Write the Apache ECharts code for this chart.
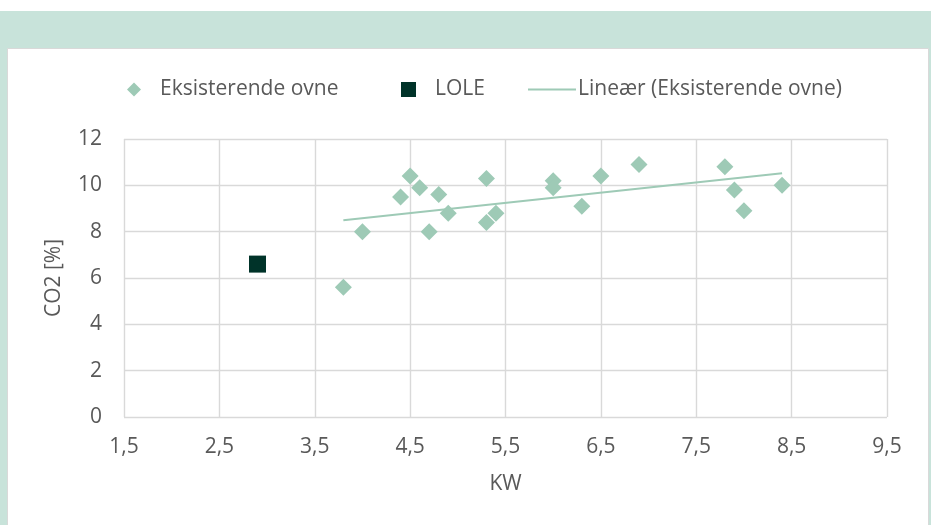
<!DOCTYPE html>
<html>
<head>
<meta charset="utf-8">
<script src="https://cdn.jsdelivr.net/npm/echarts@6/dist/echarts.min.js"></script>
<style>
  html, body { margin: 0; padding: 0; background: #ffffff; }
  #chart { width: 931px; height: 525px; }
</style>
</head>
<body>
<div id="chart"></div>
<script>
// Measured furnaces: output (kW) and CO2 (%)
const kwExisting = [3.8, 4.0, 4.4, 4.5, 4.6, 4.7, 4.8, 4.9, 5.3, 5.3, 5.4, 6.0, 6.0, 6.3, 6.5, 6.9, 7.8, 7.9, 8.0, 8.4];
const co2Existing = [5.6, 8.0, 9.5, 10.4, 9.9, 8.0, 9.6, 8.8, 10.3, 8.4, 8.8, 10.2, 9.9, 9.1, 10.4, 10.9, 10.8, 9.8, 8.9, 10.0];
const kwLole = [2.9];
const co2Lole = [6.6];

const seriesNames = ['Eksisterende ovne', 'LOLE', 'Lineær (Eksisterende ovne)'];
const xTicks = [1.5, 2.5, 3.5, 4.5, 5.5, 6.5, 7.5, 8.5, 9.5];
const yTicks = [0, 2, 4, 6, 8, 10, 12];

// Least-squares trend line over the existing furnaces
function linearFit(xs, ys) {
  const n = xs.length;
  const mx = xs.reduce((a, b) => a + b, 0) / n;
  const my = ys.reduce((a, b) => a + b, 0) / n;
  let sxy = 0, sxx = 0;
  for (let i = 0; i < n; i++) {
    sxy += (xs[i] - mx) * (ys[i] - my);
    sxx += (xs[i] - mx) * (xs[i] - mx);
  }
  const slope = sxy / sxx;
  return { slope, intercept: my - slope * mx };
}
const fit = linearFit(kwExisting, co2Existing);
const xMinData = Math.min(...kwExisting);
const xMaxData = Math.max(...kwExisting);
const trend = [xMinData, xMaxData].map(x => [x, fit.intercept + fit.slope * x]);

const existingPoints = kwExisting.map((x, i) => [x, co2Existing[i]]);
const lolePoints = kwLole.map((x, i) => [x, co2Lole[i]]);

const FONT = '"Open Sans", sans-serif';
const FS = 21;
const TEXT = '#595959';
const GRID = '#d9d9d9';
const LIGHT = '#9ecab6';
const DARK = '#003329';

const fmtComma = v => String(v).replace('.', ',');

const chart = echarts.init(document.getElementById('chart'), null, { renderer: 'canvas' });
chart.setOption({
  animation: false,
  backgroundColor: '#c8e3da',
  textStyle: { fontFamily: FONT },
  graphic: [
    { type: 'rect', silent: true, z: -10, shape: { x: 0, y: 0, width: 931, height: 11 }, style: { fill: '#ffffff' } },
    { type: 'rect', silent: true, z: -10, shape: { x: 7.5, y: 48.5, width: 921, height: 480 }, style: { fill: '#ffffff', stroke: '#d9d9d9', lineWidth: 1 } }
  ],
  grid: { left: 124, right: 44, top: 139, bottom: 108, containLabel: false },
  legend: [
    {
      data: [{ name: seriesNames[0], icon: 'diamond' }],
      left: 122, top: 74, itemWidth: 14, itemHeight: 14,
      textStyle: { color: TEXT, fontSize: FS, fontFamily: FONT, padding: [0, 0, 0, 14] }
    },
    {
      data: [{ name: seriesNames[1], icon: 'rect' }],
      left: 396, top: 74, itemWidth: 15, itemHeight: 15,
      textStyle: { color: TEXT, fontSize: FS, fontFamily: FONT, padding: [0, 0, 0, 14] }
    },
    {
      data: [{ name: seriesNames[2], icon: 'rect' }],
      left: 523, top: 74, itemWidth: 48, itemHeight: 2,
      textStyle: { color: TEXT, fontSize: FS, fontFamily: FONT, padding: [0, 0, 0, -3] }
    }
  ],
  xAxis: {
    type: 'value',
    min: xTicks[0], max: xTicks[xTicks.length - 1], interval: 0.5,
    name: 'KW', nameLocation: 'middle', nameGap: 57,
    nameTextStyle: { color: TEXT, fontSize: FS, fontFamily: FONT },
    axisLine: { show: false },
    axisTick: { show: false },
    axisLabel: {
      color: TEXT, fontSize: FS, fontFamily: FONT, margin: 20,
      formatter: v => (xTicks.some(t => Math.abs(t - v) < 1e-9) ? fmtComma(v) : '')
    },
    splitLine: { show: true, lineStyle: { color: [GRID, 'rgba(0,0,0,0)'], width: 1.4 } }
  },
  yAxis: {
    type: 'value',
    min: yTicks[0], max: yTicks[yTicks.length - 1], interval: 2,
    name: 'CO2 [%]', nameLocation: 'middle', nameGap: 59,
    nameTextStyle: { color: TEXT, fontSize: FS, fontFamily: FONT },
    axisLine: { show: false },
    axisTick: { show: false },
    axisLabel: { color: TEXT, fontSize: FS, fontFamily: FONT, margin: 22, formatter: fmtComma },
    splitLine: { show: true, lineStyle: { color: GRID, width: 1.4 } }
  },
  series: [
    {
      name: seriesNames[0], type: 'scatter', symbol: 'diamond', symbolSize: 17,
      itemStyle: { color: LIGHT, opacity: 1 }, data: existingPoints, z: 3
    },
    {
      name: seriesNames[1], type: 'scatter', symbol: 'rect', symbolSize: 17,
      itemStyle: { color: DARK, opacity: 1 }, data: lolePoints, z: 3
    },
    {
      name: seriesNames[2], type: 'line', symbol: 'none', showSymbol: false,
      lineStyle: { color: LIGHT, width: 2 }, itemStyle: { color: LIGHT },
      data: trend, z: 2
    }
  ]
});
</script>
</body>
</html>
